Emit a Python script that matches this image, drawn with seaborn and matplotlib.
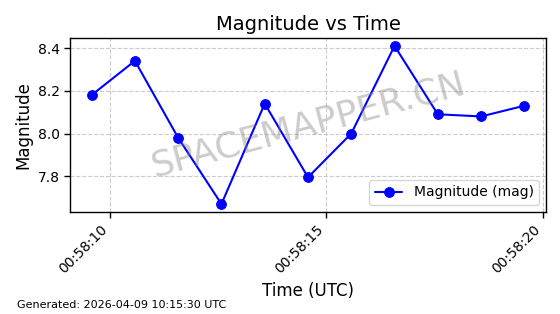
import matplotlib
matplotlib.use("Agg")
import matplotlib.pyplot as plt
import matplotlib.dates as mdates
import seaborn as sns
import pandas as pd

times = ["2026-04-09 00:58:09.58", "2026-04-09 00:58:10.58", "2026-04-09 00:58:11.58",
         "2026-04-09 00:58:12.58", "2026-04-09 00:58:13.58", "2026-04-09 00:58:14.58",
         "2026-04-09 00:58:15.58", "2026-04-09 00:58:16.58", "2026-04-09 00:58:17.58",
         "2026-04-09 00:58:18.58", "2026-04-09 00:58:19.58"]
magnitudes = [8.18, 8.34, 7.98, 7.67, 8.14, 7.795, 8.00, 8.41, 8.09, 8.08, 8.13]

df = pd.DataFrame({"time": pd.to_datetime(times), "mag": magnitudes})

sns.set_style("white")
plt.rcParams['font.family'] = ['DejaVu Sans']
plt.rcParams.update({"text.color": "black", "axes.labelcolor": "black",
                     "xtick.color": "black", "ytick.color": "black"})

fig, ax = plt.subplots(figsize=(5.6, 3.14), dpi=100)
fig.subplots_adjust(left=0.125, right=0.975, top=0.879, bottom=0.325)

sns.lineplot(data=df, x="time", y="mag", ax=ax, color="blue", marker="o",
             markersize=7, markeredgecolor="blue", linewidth=1.5,
             label="Magnitude (mag)")

ax.set_title("Magnitude vs Time", fontsize=14, color="black")
ax.set_xlabel("Time (UTC)", fontsize=12)
ax.set_ylabel("Magnitude", fontsize=12)
ax.grid(True, linestyle="--", color="#cccccc", linewidth=0.8)
for s in ax.spines.values():
    s.set_color("black")
    s.set_linewidth(1.0)
ax.tick_params(axis="both", labelsize=10, length=4, width=1, bottom=True, left=True,
               colors="black")
ax.xaxis.set_major_locator(mdates.SecondLocator(bysecond=[0, 5, 10, 15, 20, 25, 30, 35, 40, 45, 50, 55]))
ax.xaxis.set_major_formatter(mdates.DateFormatter("%H:%M:%S"))
plt.setp(ax.get_xticklabels(), rotation=45, ha="right")
leg = ax.legend(loc="lower right", fontsize=10)
for t in leg.get_texts():
    t.set_color("black")

ax.text(0.5, 0.5, "SPACEMAPPER.CN", transform=ax.transAxes, fontsize=26,
        color="gray", alpha=0.4, rotation=15, ha="center", va="center")
fig.text(0.03, 0.03, "Generated: 2026-04-09 10:15:30 UTC", fontsize=8, ha="left",
         va="center", color="black")

fig.savefig("out.png", dpi=100)
